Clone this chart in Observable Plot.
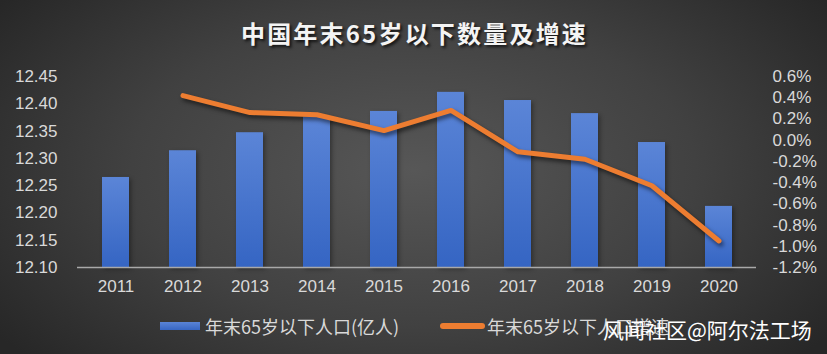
<!DOCTYPE html>
<html><head><meta charset="utf-8">
<script src="https://cdn.jsdelivr.net/npm/d3@7"></script>
<script src="https://cdn.jsdelivr.net/npm/@observablehq/plot@0.6"></script>
<style>
html,body{margin:0;padding:0;background:#2a2a2a;}
#chart{position:relative;width:827px;height:354px;overflow:hidden;
  background:radial-gradient(ellipse 62% 80% at 50% 48%, #575757 0%, #414141 55%, #272727 100%);
  font-family:"Noto Sans CJK SC","Noto Sans",sans-serif;}
#title{position:absolute;left:0;width:827px;top:21px;line-height:24px;text-align:center;color:#f4f4f4;
  font-size:24px;font-weight:bold;letter-spacing:2.2px;padding-left:2px;box-sizing:border-box;
  text-shadow:2px 2px 3px rgba(0,0,0,0.75);}
#plot{position:absolute;left:0;top:0;}
#plot svg g[aria-label="line"] path{filter:drop-shadow(2px 3px 2px rgba(0,0,0,0.55));}
#plot svg g[aria-label="bar"] rect{filter:drop-shadow(2px 2px 2px rgba(0,0,0,0.35));}
.lg{position:absolute;white-space:nowrap;}
</style>
</head><body>
<div id="chart">
  <div id="title"></div>
  <div id="plot"></div>
  <div class="lg" id="sw1" style="left:160px;top:322px;width:40px;height:8px;background:linear-gradient(#5a84d6,#3766c4);"></div>
  <div class="lg" id="lt1" style="left:205px;top:317px;font-size:18px;line-height:18px;color:#d9d9d9;"></div>
  <div class="lg" id="sw2" style="left:440px;top:323px;width:45px;height:6px;border-radius:3px;background:#ED7D31;"></div>
  <div class="lg" id="lt2" style="left:487px;top:317px;font-size:18px;line-height:18px;color:#d9d9d9;"></div>
  <div class="lg" id="wm" style="left:603px;top:319px;font-size:21px;line-height:21px;color:#ffffff;"></div>
</div>
<script>
const titleText = "中国年末65岁以下数量及增速";
const seriesNames = ["年末65岁以下人口(亿人)", "年末65岁以下人口增速"];
const watermark = "风闻社区@阿尔法工场";
const years = ["2011","2012","2013","2014","2015","2016","2017","2018","2019","2020"];
const population = [12.265, 12.314, 12.347, 12.376, 12.386, 12.421, 12.406, 12.382, 12.329, 12.212];
const growth = [null, 0.42, 0.26, 0.24, 0.09, 0.28, -0.11, -0.18, -0.43, -0.95];
const leftTicks = [12.10, 12.15, 12.20, 12.25, 12.30, 12.35, 12.40, 12.45];
const leftTickLabels = ["12.10","12.15","12.20","12.25","12.30","12.35","12.40","12.45"];
const rightTicks = [-1.2, -1.0, -0.8, -0.6, -0.4, -0.2, 0.0, 0.2, 0.4, 0.6];
const rightTickLabels = ["-1.2%","-1.0%","-0.8%","-0.6%","-0.4%","-0.2%","0.0%","0.2%","0.4%","0.6%"];

const leftDomain = [12.10, 12.45];
const rightDomain = [-1.2, 0.6];
const toLeft = p => leftDomain[0] + (p - rightDomain[0]) / (rightDomain[1] - rightDomain[0]) * (leftDomain[1] - leftDomain[0]);

document.getElementById("title").textContent = titleText;
document.getElementById("lt1").textContent = seriesNames[0];
document.getElementById("lt2").textContent = seriesNames[1];
document.getElementById("wm").textContent = watermark;

const barData = years.map((y, i) => ({year: y, value: population[i]}));
const lineData = years.map((y, i) => ({year: y, g: growth[i]})).filter(d => d.g != null);
const leftAxis = leftTicks.map((v, i) => ({v, label: leftTickLabels[i]}));
const rightAxis = rightTicks.map((p, i) => ({p, label: rightTickLabels[i]}));

const defs = () => {
  const ns = "http://www.w3.org/2000/svg";
  const d = document.createElementNS(ns, "defs");
  d.innerHTML = '<linearGradient id="barGrad" x1="0" y1="0" x2="0" y2="1"><stop offset="0" stop-color="#5b85d7"/><stop offset="1" stop-color="#3565c3"/></linearGradient>';
  return d;
};

const numFont = '"Liberation Sans","DejaVu Sans",sans-serif';
const chart = Plot.plot({
  width: 827,
  height: 300,
  marginLeft: 77,
  marginRight: 71,
  marginTop: 76,
  marginBottom: 33,
  style: {background: "transparent", color: "#d9d9d9", fontFamily: numFont, fontSize: "17px"},
  x: {type: "band", domain: years, paddingInner: 0.6, paddingOuter: 0.3, axis: null, label: null},
  y: {domain: leftDomain, axis: null},
  marks: [
    defs,
    Plot.barY(barData, {x: "year", y1: () => leftDomain[0], y2: "value", fill: "url(#barGrad)"}),
    Plot.ruleY([leftDomain[0]], {stroke: "#a9a9a9", strokeWidth: 1.6}),
    Plot.line(lineData, {x: "year", y: d => toLeft(d.g), stroke: "#ED7D31", strokeWidth: 5, strokeLinecap: "round", strokeLinejoin: "round"}),
    Plot.axisX({tickSize: 0, tickPadding: 12, fontSize: 17, fill: "#d9d9d9", label: null}),
    Plot.text(leftAxis, {y: "v", text: "label", frameAnchor: "left", textAnchor: "end", dx: -20, fontSize: 17, fill: "#d9d9d9"}),
    Plot.text(rightAxis, {y: d => toLeft(d.p), text: "label", frameAnchor: "right", textAnchor: "start", dx: 16, fontSize: 17, fill: "#d9d9d9"})
  ]
});
document.getElementById("plot").appendChild(chart);
</script>
</body></html>
